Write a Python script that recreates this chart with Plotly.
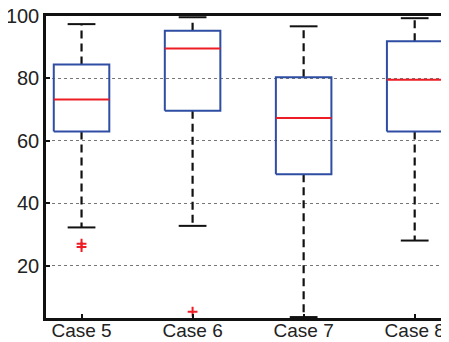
import plotly.graph_objects as go

categories = ["Case 5", "Case 6", "Case 7", "Case 8"]
lower_whisker = [32.3, 32.8, 3.6, 28.1]
q1 = [63.0, 69.7, 49.3, 63.0]
median = [73.3, 89.6, 67.3, 79.6]
q3 = [84.5, 95.3, 80.4, 91.9]
upper_whisker = [97.4, 99.6, 96.7, 99.3]
outliers = [[27.1, 26.0], [5.3], [], []]
y_ticks = [20, 40, 60, 80, 100]

BOX_W = 0.5
CAP_W = 0.25
BLUE = "#2f4da3"
RED = "#ee1c25"

fig = go.Figure()
for i, name in enumerate(categories):
    x = i + 1
    # whiskers (dashed)
    fig.add_trace(go.Scatter(x=[x, x, None, x, x],
                             y=[q3[i], upper_whisker[i], None, q1[i], lower_whisker[i]],
                             mode="lines", line=dict(color="#111111", width=2.2, dash="8px,5px"),
                             hoverinfo="skip", showlegend=False))
    # caps
    fig.add_trace(go.Scatter(x=[x - CAP_W / 2, x + CAP_W / 2, None, x - CAP_W / 2, x + CAP_W / 2],
                             y=[upper_whisker[i], upper_whisker[i], None, lower_whisker[i], lower_whisker[i]],
                             mode="lines", line=dict(color="#111111", width=2),
                             hoverinfo="skip", showlegend=False))
    # box
    fig.add_trace(go.Scatter(x=[x - BOX_W / 2, x + BOX_W / 2, x + BOX_W / 2, x - BOX_W / 2, x - BOX_W / 2],
                             y=[q1[i], q1[i], q3[i], q3[i], q1[i]],
                             mode="lines", line=dict(color=BLUE, width=2),
                             hoverinfo="skip", showlegend=False))
    # median
    fig.add_trace(go.Scatter(x=[x - BOX_W / 2, x + BOX_W / 2],
                             y=[median[i], median[i]],
                             mode="lines", line=dict(color=RED, width=2),
                             hoverinfo="skip", showlegend=False))
    if outliers[i]:
        fig.add_trace(go.Scatter(x=[x] * len(outliers[i]), y=outliers[i], mode="markers",
                                 marker=dict(symbol="cross-thin", size=7, color=RED,
                                             line=dict(color=RED, width=2)),
                                 hoverinfo="skip", showlegend=False))

fig.update_layout(
    width=441, height=334,
    margin=dict(l=38, r=1, t=8, b=24),
    plot_bgcolor="white", paper_bgcolor="white",
    font=dict(family="Liberation Sans, Arial, sans-serif", size=20, color="#222222"),
    xaxis=dict(range=[0.68, 4.3], tickvals=[1, 2, 3, 4], ticktext=categories,
               automargin=False, ticklabelstandoff=-7, ticklabeloverflow="allow",
               tickfont=dict(size=19),
               showgrid=False, zeroline=False, showline=True, linecolor="#111111",
               linewidth=2.5, mirror=True, ticks="inside", ticklen=4,
               tickcolor="#111111", tickwidth=1.5),
    yaxis=dict(range=[3.3, 100], tickvals=y_ticks, showgrid=True, gridcolor="#777777",
               automargin=False, ticklabeloverflow="allow",
               griddash="dot", gridwidth=1, zeroline=False, showline=True,
               linecolor="#111111", linewidth=2.5, mirror=True, ticks="inside",
               ticklen=4, tickcolor="#111111", tickwidth=1.5),
)

fig.write_html("out.html")
